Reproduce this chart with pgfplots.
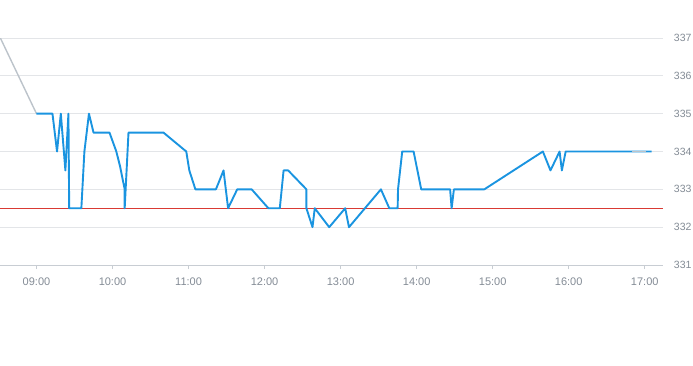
\documentclass[border=0pt]{standalone}
\usepackage{pgfplots}
\pgfplotsset{compat=1.18}
\usepackage{fontspec}
\setmainfont{Liberation Sans}
\definecolor{lblue}{HTML}{1A94E0}
\definecolor{lgray}{HTML}{BCC3CA}
\definecolor{lred}{HTML}{D93A34}
\definecolor{grid}{HTML}{E3E5E8}
\definecolor{axisc}{HTML}{C8CDD3}
\definecolor{ticktext}{HTML}{838B95}
\begin{document}
\begin{tikzpicture}
\useasboundingbox (0pt,0pt) rectangle (693pt,365pt);
\begin{axis}[
  at={(0pt,100pt)}, anchor=south west,
  scale only axis, width=663pt, height=227pt,
  xmin=8.52, xmax=17.24, ymin=331, ymax=337,
  axis x line*=bottom, axis y line*=right,
  y axis line style={draw=none},
  x axis line style={draw=axisc, line width=0.8pt},
  xtick={9,10,11,12,13,14,15,16,17},
  xticklabels={09:00,10:00,11:00,12:00,13:00,14:00,15:00,16:00,17:00},
  ytick={331,332,333,334,335,336,337},
  xtick style={draw=axisc, line width=0.8pt},
  x tick style={/pgfplots/major tick length=4pt},
  tick align=outside,
  ytick style={draw=none},
  ymajorgrids, grid style={draw=grid, line width=0.8pt},
  /pgf/number format/assume math mode=true,
  ticklabel style={font=\fontsize{11}{13}\selectfont, text=ticktext},
  xticklabel style={anchor=north, inner sep=0pt, yshift=-8pt},
  yticklabel style={anchor=west, inner sep=0pt, xshift=6.5pt, font=\fontsize{10.5}{12}\selectfont},
  clip=true,
]
\addplot[lgray, line width=1.4pt] coordinates {(8.52,337.02) (9.0,335)};
\addplot[lred, line width=0.9pt] coordinates {(8.52,332.5) (17.24,332.5)};
\addplot[lblue, line width=1.9pt, line join=round] table {
x y
9.00 335
9.21 335
9.27 334
9.32 335
9.38 333.5
9.42 335
9.43 332.5
9.59 332.5
9.63 334
9.69 335
9.75 334.5
9.96 334.5
10.05 334
10.10 333.6
10.16 333
10.16 332.5
10.21 334.5
10.67 334.5
10.97 334
11.01 333.5
11.09 333
11.36 333
11.46 333.5
11.52 332.5
11.64 333
11.83 333
12.05 332.5
12.20 332.5
12.25 333.5
12.31 333.5
12.55 333
12.55 332.5
12.63 332
12.66 332.5
12.85 332
13.06 332.5
13.11 332
13.53 333
13.64 332.5
13.75 332.5
13.755 333
13.81 334
13.96 334
14.06 333
14.44 333
14.46 332.5
14.49 333
14.89 333
15.66 334
15.76 333.5
15.88 334
15.91 333.5
15.96 334
17.09 334
};
\addplot[lgray, line width=1.9pt] coordinates {(16.83,334) (17.01,334)};
\end{axis}
\end{tikzpicture}
\end{document}
